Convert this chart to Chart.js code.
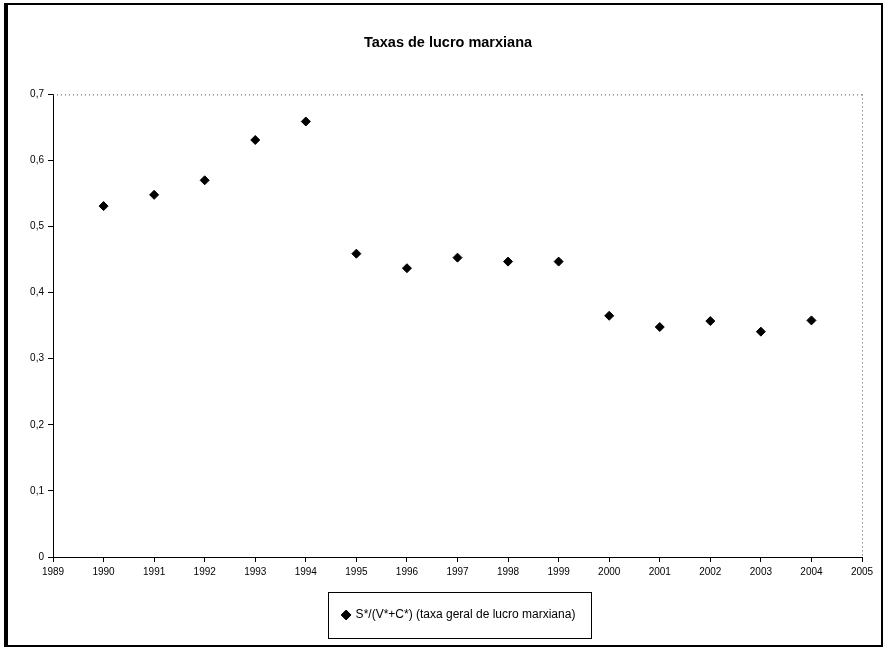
<!DOCTYPE html>
<html>
<head>
<meta charset="utf-8">
<script src="https://cdn.jsdelivr.net/npm/chart.js@4/dist/chart.umd.min.js"></script>
<style>
  html, body { margin: 0; padding: 0; background: #fff; }
  #wrap { width: 885px; height: 648px; }
</style>
</head>
<body>
<div id="wrap"><canvas id="lucroChart" width="885" height="648"></canvas></div>
<script>
// dados
const years = [1990, 1991, 1992, 1993, 1994, 1995, 1996, 1997, 1998, 1999, 2000, 2001, 2002, 2003, 2004];
const taxaGeral = [0.531, 0.548, 0.570, 0.631, 0.659, 0.459, 0.437, 0.453, 0.447, 0.447, 0.365, 0.348, 0.357, 0.341, 0.358];
const seriesLabel = "S*/(V*+C*) (taxa geral de lucro marxiana)";
const chartTitle = "Taxas de lucro marxiana";
const xMin = 1989, xMax = 2005;
const yMin = 0, yMax = 0.7;

const FONT = "'Liberation Sans', Arial, sans-serif";

// frame, plot border and legend box
const framePlugin = {
  id: 'framePlugin',
  afterLayout(chart) {
    // legend and title sit a bit right of the canvas centre
    const lg = chart.legend;
    lg.left += 24;
    lg.right += 24;
    const tb = chart.titleBlock;
    if (tb) {
      tb.left += 13;
      tb.right += 13;
    }
  },
  afterDraw(chart) {
    const ctx = chart.ctx;
    const area = chart.chartArea;
    ctx.save();
    // dotted top / right border of the plot area
    ctx.strokeStyle = "#555";
    ctx.lineWidth = 1;
    ctx.setLineDash([1, 3]);
    ctx.beginPath();
    ctx.moveTo(area.left, area.top + 0.5);
    ctx.lineTo(area.right, area.top + 0.5);
    ctx.moveTo(area.right + 0.5, area.top);
    ctx.lineTo(area.right + 0.5, area.bottom);
    ctx.stroke();
    ctx.setLineDash([]);

    // outer frame
    ctx.strokeStyle = "#000";
    ctx.lineWidth = 2;
    ctx.strokeRect(5, 4, chart.width - 8, chart.height - 6);
    ctx.lineWidth = 3;
    ctx.beginPath();
    ctx.moveTo(6.5, 4);
    ctx.lineTo(6.5, chart.height - 2);
    ctx.stroke();

    // legend box
    const hb = chart.legend.legendHitBoxes[0];
    if (hb) {
      const cy = hb.top + hb.height / 2;
      ctx.lineWidth = 1;
      ctx.strokeStyle = "#000";
      ctx.strokeRect(Math.round(hb.left - 15) + 0.5, Math.round(cy - 23) + 0.5,
                     Math.round(hb.width + 30), 46);
    }
    ctx.restore();
  }
};

const ctx = document.getElementById('lucroChart').getContext('2d');
const points = years.map((y, i) => ({ x: y, y: taxaGeral[i] }));

new Chart(ctx, {
  type: 'scatter',
  data: {
    datasets: [{
      label: seriesLabel,
      data: points,
      pointStyle: 'rectRot',
      pointRadius: 4.5,
      pointHoverRadius: 4.5,
      backgroundColor: '#000',
      borderColor: '#000',
      borderWidth: 1
    }]
  },
  options: {
    responsive: false,
    animation: false,
    devicePixelRatio: 1,
    layout: { padding: { top: 0, left: 8, right: 23, bottom: 17 } },
    plugins: {
      title: {
        display: true,
        text: chartTitle,
        color: '#000',
        font: { family: FONT, size: 14.5, weight: 'bold' },
        padding: { top: 34, bottom: 43 }
      },
      legend: {
        display: true,
        position: 'bottom',
        labels: {
          color: '#000',
          font: { family: FONT, size: 12 },
          usePointStyle: true,
          pointStyle: 'rectRot',
          boxWidth: 7,
          boxHeight: 7,
          padding: 18
        }
      },
      tooltip: { enabled: false }
    },
    scales: {
      x: {
        type: 'linear',
        min: xMin,
        max: xMax,
        ticks: {
          stepSize: 1,
          color: '#000',
          font: { family: FONT, size: 10 },
          padding: 4,
          maxRotation: 0,
          callback: v => String(v)
        },
        grid: { display: true, drawOnChartArea: false, drawTicks: true, tickLength: 5, color: '#000' },
        border: { display: true, color: '#000', width: 1 },
        afterFit: scale => { scale.height = 34; }
      },
      y: {
        min: yMin,
        max: yMax,
        ticks: {
          stepSize: 0.1,
          color: '#000',
          font: { family: FONT, size: 10 },
          padding: 4,
          callback: v => (v === 0 ? '0' : v.toFixed(1).replace('.', ','))
        },
        grid: { display: true, drawOnChartArea: false, drawTicks: true, tickLength: 5, color: '#000' },
        border: { display: true, color: '#000', width: 1 },
        afterFit: scale => { scale.width = 45; }
      }
    }
  },
  plugins: [framePlugin]
});
</script>
</body>
</html>
